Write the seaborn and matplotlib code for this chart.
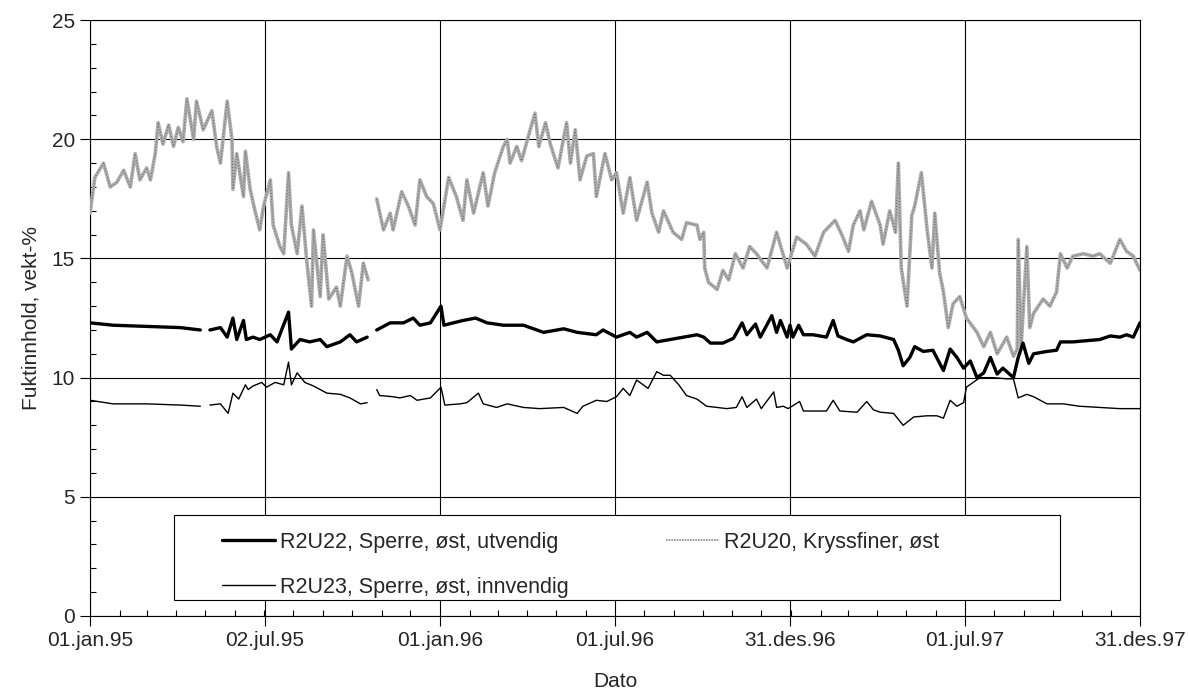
import pandas as pd
import seaborn as sns
import matplotlib.pyplot as plt
import matplotlib.dates as mdates
from matplotlib.lines import Line2D
from matplotlib.patches import Rectangle

start = pd.Timestamp('1995-01-01')

# R2U20, Kryssfiner, øst  (days after 01.jan.95, None = gap in the logging)
r2u20_days = [0, 5, 14, 21, 28, 35, 42, 47, 52, 59, 63, 68, 71, 76, 82, 87, 92, 97, 101, 108,
              111, 118, 127, 132, 136, 143, 148, 149, 153, 160, 162, 167, 172, 177, 181, 188, 191, 198, 202, 207,
              210, 216, 221, 226, 231, 233, 240, 243, 249, 257, 261, 268, 273, 280, 285, 290, 294, 299, 306, 313,
              316, 325, 332, 339, 344, 351, 358, 365, 374, 382, 389, 393, 400, 410, 415, 422, 431, 435, 438, 445,
              450, 459, 464, 468, 475, 480, 488, 497, 501, 506, 511, 518, 525, 528, 537, 544, 549, 556, 563, 570,
              581, 586, 593, 598, 608, 617, 622, 633, 636, 640, 641, 645, 654, 660, 666, 673, 681, 688, 695, 706,
              716, 727, 737, 747, 756, 765, 777, 784, 791, 796, 803, 807, 815, 824, 827, 834, 840, 843, 846, 852,
              857, 860, 867, 873, 878, 881, 886, 890, 895, 900, 907, 914, 925, 932, 939, 946, 956, 963, 967, 968,
              971, 977, 980, 984, 994, 1001, 1008, 1012, 1019, 1025, 1036, 1046, 1053, 1064, 1074, 1081, 1088, 1095]
r2u20_vals = [16.9, 18.4, 19.0, 18.0, 18.2, 18.7, 18.0, 19.4, 18.3, 18.8, 18.3, 19.4, 20.7, 19.8, 20.6, 19.7, 20.5, 19.9, 21.7, 20.0,
              21.6, 20.4, 21.2, 19.7, 19.0, 21.6, 20.0, 17.9, 19.4, 17.6, 19.5, 17.9, 17.0, 16.2, 17.2, 18.3, 16.4, 15.5, 15.2, 18.6,
              16.4, 15.2, 17.2, 14.9, 13.0, 16.2, 13.4, 16.0, 13.3, 13.8, 13.0, 15.1, 14.4, 13.0, 14.8, 14.1, None, 17.5, 16.2, 16.9,
              16.2, 17.8, 17.2, 16.4, 18.3, 17.6, 17.3, 16.2, 18.4, 17.6, 16.6, 18.3, 16.9, 18.6, 17.2, 18.6, 19.7, 20.0, 19.0, 19.7,
              19.1, 20.4, 21.1, 19.7, 20.7, 19.8, 18.8, 20.7, 19.0, 20.4, 18.3, 19.3, 19.4, 17.6, 19.4, 18.3, 18.6, 16.9, 18.4, 16.6,
              18.2, 16.9, 16.1, 17.0, 16.1, 15.8, 16.5, 16.4, 15.8, 16.1, 14.6, 14.0, 13.7, 14.5, 14.1, 15.2, 14.6, 15.5, 15.2, 14.6,
              16.1, 14.6, 15.9, 15.6, 15.1, 16.1, 16.6, 16.0, 15.3, 16.4, 17.0, 16.2, 17.4, 16.4, 15.6, 17.0, 16.1, 19.0, 14.6, 13.0,
              16.8, 17.2, 18.6, 16.2, 14.6, 16.9, 14.4, 13.6, 12.1, 13.1, 13.4, 12.5, 11.9, 11.3, 11.9, 11.0, 11.7, 10.9, 11.2, 15.8,
              11.3, 15.5, 12.1, 12.7, 13.3, 13.0, 13.6, 15.2, 14.6, 15.1, 15.2, 15.1, 15.2, 14.8, 15.8, 15.3, 15.1, 14.5]

# R2U22, Sperre, øst, utvendig
r2u22_days = [0, 24, 59, 94, 115, 119, 125, 136, 143, 149, 153, 160, 163, 170, 177, 188, 195, 207, 210, 219,
              229, 240, 247, 261, 271, 278, 289, 294, 299, 313, 327, 337, 344, 355, 366, 369, 389, 402, 414, 431,
              452, 473, 494, 508, 528, 535, 549, 563, 570, 581, 591, 612, 633, 640, 647, 660, 671, 680, 685, 694,
              699, 711, 716, 720, 727, 730, 733, 739, 744, 754, 768, 775, 780, 789, 796, 810, 824, 838, 843, 848,
              855, 860, 869, 879, 890, 897, 904, 911, 918, 925, 932, 939, 946, 952, 963, 968, 973, 979, 984, 998,
              1008, 1012, 1025, 1039, 1053, 1064, 1074, 1081, 1088, 1095]
r2u22_vals = [12.3, 12.2, 12.15, 12.1, 12.0, None, 12.0, 12.1, 11.7, 12.5, 11.6, 12.4, 11.6, 11.7, 11.6, 11.8, 11.5, 12.75, 11.2, 11.6,
              11.5, 11.6, 11.3, 11.5, 11.8, 11.5, 11.7, None, 12.0, 12.3, 12.3, 12.5, 12.2, 12.3, 13.0, 12.2, 12.4, 12.5, 12.3, 12.2,
              12.2, 11.9, 12.05, 11.9, 11.8, 12.0, 11.7, 11.9, 11.7, 11.9, 11.5, 11.65, 11.8, 11.7, 11.45, 11.45, 11.65, 12.3, 11.8, 12.25,
              11.7, 12.6, 11.9, 12.4, 11.7, 12.2, 11.7, 12.2, 11.8, 11.8, 11.7, 12.4, 11.75, 11.6, 11.5, 11.8, 11.75, 11.6, 11.15, 10.5,
              10.85, 11.3, 11.1, 11.15, 10.3, 11.2, 10.85, 10.4, 10.7, 10.0, 10.2, 10.85, 10.15, 10.4, 10.0, 10.85, 11.45, 10.6, 11.0, 11.1,
              11.15, 11.5, 11.5, 11.55, 11.6, 11.75, 11.7, 11.8, 11.7, 12.3]

# R2U23, Sperre, øst, innvendig
r2u23_days = [0, 24, 59, 94, 115, 119, 125, 136, 144, 149, 155, 162, 165, 170, 179, 184, 193, 202, 207, 210,
              216, 224, 233, 247, 261, 271, 282, 289, 294, 299, 302, 316, 323, 334, 341, 355, 366, 370, 386, 393,
              405, 410, 424, 435, 452, 469, 494, 508, 514, 528, 539, 549, 556, 563, 570, 582, 591, 598, 605, 614,
              622, 633, 643, 654, 664, 674, 680, 685, 695, 700, 713, 716, 723, 728, 740, 744, 768, 775, 782, 800,
              810, 817, 824, 838, 848, 859, 873, 883, 890, 897, 904, 911, 914, 921, 928, 942, 956, 963, 968, 977,
              984, 998, 1015, 1032, 1053, 1074, 1095]
r2u23_vals = [9.05, 8.9, 8.9, 8.85, 8.8, None, 8.85, 8.9, 8.5, 9.35, 9.1, 9.7, 9.5, 9.65, 9.8, 9.6, 9.8, 9.7, 10.65, 9.7,
              10.2, 9.8, 9.65, 9.35, 9.3, 9.15, 8.9, 8.95, None, 9.5, 9.25, 9.2, 9.15, 9.25, 9.05, 9.15, 9.6, 8.85, 8.9, 8.95,
              9.35, 8.9, 8.75, 8.9, 8.75, 8.7, 8.75, 8.5, 8.8, 9.05, 9.0, 9.2, 9.55, 9.25, 9.9, 9.55, 10.25, 10.1, 10.1, 9.7,
              9.25, 9.1, 8.8, 8.75, 8.7, 8.75, 9.2, 8.75, 9.1, 8.7, 9.4, 8.75, 8.8, 8.7, 9.0, 8.6, 8.6, 9.05, 8.6, 8.55,
              9.0, 8.65, 8.55, 8.5, 8.0, 8.35, 8.4, 8.4, 8.3, 9.05, 8.8, 8.95, 9.6, 9.8, 10.0, 10.0, 9.95, 9.95, 9.15, 9.3,
              9.2, 8.9, 8.9, 8.8, 8.75, 8.7, 8.7]

tick_days = [0, 182, 365, 547, 730, 912, 1095]
tick_labels = ['01.jan.95', '02.jul.95', '01.jan.96', '01.jul.96', '31.des.96', '01.jul.97', '31.des.97']

labels = ['R2U22, Sperre, øst, utvendig', 'R2U23, Sperre, øst, innvendig', 'R2U20, Kryssfiner, øst']


def make_frame(days, vals):
    df = pd.DataFrame({'day': days, 'value': vals}, dtype=float)
    df['seg'] = df['value'].isna().cumsum()  # new piece after every gap
    df = df.dropna()
    df['dato'] = start + pd.to_timedelta(df['day'], unit='D')
    return df


sns.set_style('ticks')
plt.rcParams['font.family'] = ['Liberation Sans', 'DejaVu Sans']

fig, ax = plt.subplots(figsize=(11.88, 6.95), dpi=100)
fig.subplots_adjust(left=0.0758, right=0.9596, bottom=0.1137, top=0.971)

gray = '#adadad'
df20 = make_frame(r2u20_days, r2u20_vals)
sns.lineplot(data=df20, x='dato', y='value', units='seg', estimator=None,
             color=gray, lw=2.6, ax=ax, zorder=3)
# the printed grey line has a dark speckled edge
sns.lineplot(data=df20, x='dato', y='value', units='seg', estimator=None,
             color='#666666', lw=0.7, ls=(0, (1, 2)), ax=ax, zorder=3)
sns.lineplot(data=make_frame(r2u22_days, r2u22_vals), x='dato', y='value', units='seg', estimator=None,
             color='black', lw=2.4, ax=ax, zorder=3)
sns.lineplot(data=make_frame(r2u23_days, r2u23_vals), x='dato', y='value', units='seg', estimator=None,
             color='black', lw=1.0, ax=ax, zorder=3)

ax.set_xlim(start, start + pd.Timedelta(days=1095))
ax.set_ylim(0, 25)
ax.set_xticks([start + pd.Timedelta(days=d) for d in tick_days])
ax.set_xticklabels(tick_labels)
ax.xaxis.set_minor_locator(mdates.MonthLocator())
ax.set_yticks(range(0, 26, 5))
ax.set_yticks(range(0, 26), minor=True)

ax.tick_params(which='major', direction='out', length=7, width=0.8, labelsize=15, color='black', pad=4)
ax.tick_params(which='minor', direction='in', length=4, width=0.8, color='black')
ax.grid(True, which='major', color='black', lw=0.8)
for s in ax.spines.values():
    s.set_color('black')
    s.set_linewidth(0.8)

ax.set_xlabel('Dato', fontsize=15, labelpad=16)
ax.set_ylabel('Fuktinnhold, vekt-%', fontsize=15, labelpad=8)

# legend box
ax.add_patch(Rectangle((0.080, 0.027), 0.844, 0.142, transform=ax.transAxes,
                       facecolor='white', edgecolor='black', lw=0.8, zorder=4))
handles = [Line2D([], [], color='black', lw=2.4),
           Line2D([], [], color='black', lw=1.0),
           Line2D([], [], color='#888888', lw=1.2, ls=(0, (1, 0.6)))]
leg = ax.legend(handles, labels, ncol=2, loc='upper left', bbox_to_anchor=(0.1257, 0.141),
                frameon=False, fontsize=15.5, handlelength=2.45, handletextpad=0.25,
                columnspacing=4.5, labelspacing=1.1, borderpad=0, borderaxespad=0)
leg.set_zorder(5)

fig.savefig('out.png', dpi=100)
